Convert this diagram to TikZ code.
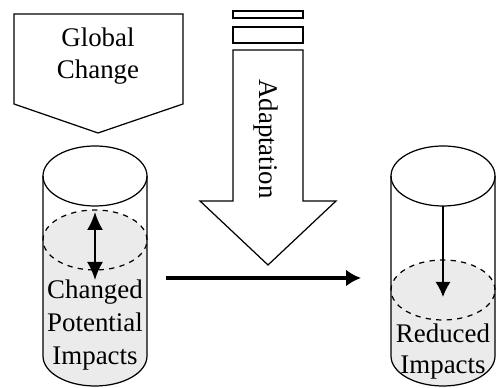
\documentclass[tikz,border=0pt]{standalone}
\usepackage{fontspec}
\setmainfont{Liberation Serif}
\usepackage{tikz}
\usetikzlibrary{arrows.meta}

\tikzset{
  lbl/.style={font=\fontsize{15.3}{18.5}\selectfont, align=center, inner sep=0pt},
  liquid/.style={fill=gray!16},
  outline/.style={line width=0.7pt},
}

\begin{document}
\begin{tikzpicture}[x=0.2mm, y=0.2mm, >=latex]
	\useasboundingbox (0,0) rectangle (496,388);
%	\draw [help lines, step=20] (0,0) grid (496,388);
	% global change box
	\draw [outline] (14,374) -- (183,374) -- (183,284) -- (98,255) -- (14,284) -- cycle;
	\node [lbl] (gc) at (98,331.7) {Global\\Change};
	% adaptation arrow
	\draw [outline] (233,377) rectangle (303,370);
	\draw [outline] (233,361) rectangle (303,345);
	\draw [outline] (233,338) -- (303,338) -- (303,187) -- (336,187) -- (268,123) -- (200,187) -- (233,187) -- cycle;
	\node [lbl, rotate=-90] (adapt) at (266,249) {Adaptation};
	% cylinders
	\foreach \cx/\lv in {95/148, 443/98} {
		\fill [liquid] (\cx-52,\lv) arc (180:0:52 and 30) -- (\cx+52,32) arc (0:-180:52 and 30) -- cycle;
		\draw [outline] (\cx,212) ellipse (52 and 30);
		\draw [outline] (\cx-52,212) -- (\cx-52,32) arc (180:360:52 and 30) -- (\cx+52,212);
		\draw [outline, dashed] (\cx,\lv) ellipse (52 and 30);
	}
	\node [lbl, font=\fontsize{15.3}{18.8}\selectfont] (cpi) at (95,63.2) {Changed\\Potential\\Impacts};
	\node [lbl, font=\fontsize{15.3}{17.6}\selectfont] (ri) at (443,36.8) {Reduced\\Impacts};
	% arrows
	\coordinate (lvltop) at (95,176);
	\coordinate (lvlbot) at (95,108);
	\coordinate (dropstart) at (443,182);
	\coordinate (dropend) at (443,91);
	\coordinate (flowstart) at (166,110);
	\coordinate (flowend) at (361,110);
	\draw [{Latex[length=3.6mm,width=3.2mm]}-{Latex[length=3.6mm,width=3.2mm]}, line width=1.2pt] (lvltop) -- (lvlbot);
	\draw [-{Latex[length=3mm,width=3mm]}, line width=0.8pt] (dropstart) -- (dropend);
	\draw [-{Latex[length=3mm,width=3.4mm]}, line width=2.2pt] (flowstart) -- (flowend);
\end{tikzpicture}
\end{document}
